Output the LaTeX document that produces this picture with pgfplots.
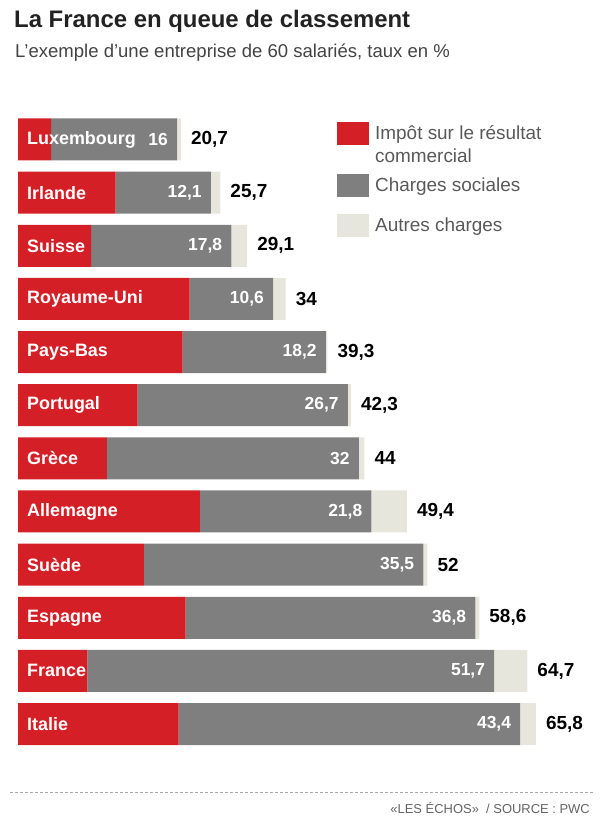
\documentclass[border=0pt]{standalone}
\usepackage{fontspec}
\setmainfont{Liberation Sans}
\usepackage{pgfplots}
\usepackage{pgfplotstable}
\pgfplotsset{compat=1.18}
\definecolor{cred}{HTML}{D51F27}
\definecolor{cgray}{HTML}{7F7F7F}
\definecolor{clight}{HTML}{E6E6DD}
\definecolor{ctext}{HTML}{222222}

\pgfplotstableread{
idx name red gray glab other tlab z rg tot
0 Luxembourg 4.2 16.0 16 0.5 20,7 0 20.2 20.7
1 Irlande 12.4 12.1 12,1 1.2 25,7 0 24.5 25.7
2 Suisse 9.3 17.8 17,8 2.0 29,1 0 27.1 29.1
3 Royaume-Uni 21.8 10.6 10,6 1.6 34 0 32.4 34.0
4 Pays-Bas 20.9 18.2 18,2 0.2 39,3 0 39.1 39.3
5 Portugal 15.2 26.7 26,7 0.4 42,3 0 41.9 42.3
6 Grèce 11.3 32.0 32 0.7 44 0 43.3 44.0
7 Allemagne 23.1 21.8 21,8 4.5 49,4 0 44.9 49.4
8 Suède 16.0 35.5 35,5 0.5 52 0 51.5 52.0
9 Espagne 21.3 36.8 36,8 0.5 58,6 0 58.1 58.6
10 France 8.8 51.7 51,7 4.2 64,7 0 60.5 64.7
11 Italie 20.4 43.4 43,4 2.0 65,8 0 63.8 65.8
}\data

\pgfplotsset{
  mylegend/.style={legend image code/.code={\fill[##1] (0bp,-11.5bp) rectangle (32bp,11.5bp);}},
  mylegendA/.style={legend image code/.code={\fill[##1] (0bp,-11.5bp) rectangle (32bp,11.5bp); \path (0bp,-24bp);}},
  barplot/.style={xbar, bar shift=0pt, bar width=0.79, draw=none},
  labelplot/.style={forget plot, sharp plot, stack plots=false, draw=none, mark=none, nodes near coords, point meta=explicit symbolic},
}
\newcommand{\legtxt}[1]{\raisebox{-7bp}[0pt][0pt]{#1}}

\begin{document}
\begin{tikzpicture}
\useasboundingbox (0bp,0bp) rectangle (610bp,-826bp);
\node[anchor=base west, font=\fontsize{24}{28}\selectfont\bfseries, text=ctext, inner sep=0] at (14bp,-27bp) {La France en queue de classement};
\node[anchor=base west, font=\fontsize{18.6}{22}\selectfont, text=ctext!85, inner sep=0] at (15bp,-57bp) {L’exemple d’une entreprise de 60 salariés, taux en \%};

\begin{axis}[
  at={(18bp,-112.9bp)}, anchor=north west,
  scale only axis, width=551bp, height=637.7bp,
  xmin=0, xmax=70, ymin=-0.5, ymax=11.5, y dir=reverse,
  axis lines=none, xtick=\empty, ytick=\empty,
  clip=false,
  stack plots=x,
  legend style={at={(0.5789,0.9857)}, anchor=north west, draw=none, fill=none, inner sep=0pt,
    font=\fontsize{19}{22.5}\selectfont, text=ctext!75,
    cells={anchor=west, align=left}, row sep=16.5bp,
    nodes={inner sep=0pt}, column sep=6bp},
]
\addplot[barplot, mylegendA, fill=cred] table[x=red, y=idx] {\data};
\addplot[barplot, mylegend, fill=cgray] table[x=gray, y=idx] {\data};
\addplot[barplot, mylegend, fill=clight] table[x=other, y=idx] {\data};
\legend{\legtxt{\begin{tabular}[t]{@{}l@{}}Impôt sur le résultat\\commercial\end{tabular}}, \legtxt{Charges sociales}, \legtxt{Autres charges}}
\addplot[labelplot, nodes near coords style={anchor=east, xshift=-9bp, inner sep=0pt, text=white, font=\fontsize{17.5}{20}\selectfont\bfseries}]
  table[x=rg, y=idx, meta=glab] {\data};
\addplot[labelplot, nodes near coords style={anchor=west, xshift=10bp, inner sep=0pt, text=black, font=\fontsize{19}{22}\selectfont\bfseries}]
  table[x=tot, y=idx, meta=tlab] {\data};
\addplot[labelplot, nodes near coords style={anchor=west, xshift=9bp, inner sep=0pt, text=white, font=\fontsize{18}{22}\selectfont\bfseries}]
  table[x=z, y=idx, meta=name] {\data};
\end{axis}

\draw[gray!70, dash pattern=on 3bp off 2bp] (10bp,-792bp) -- (594bp,-792bp);
\node[anchor=base east, font=\fontsize{13}{15}\selectfont, text=ctext!70, inner sep=0] at (590bp,-813bp) {«LES ÉCHOS»\ \ / SOURCE : PWC};
\end{tikzpicture}
\end{document}
